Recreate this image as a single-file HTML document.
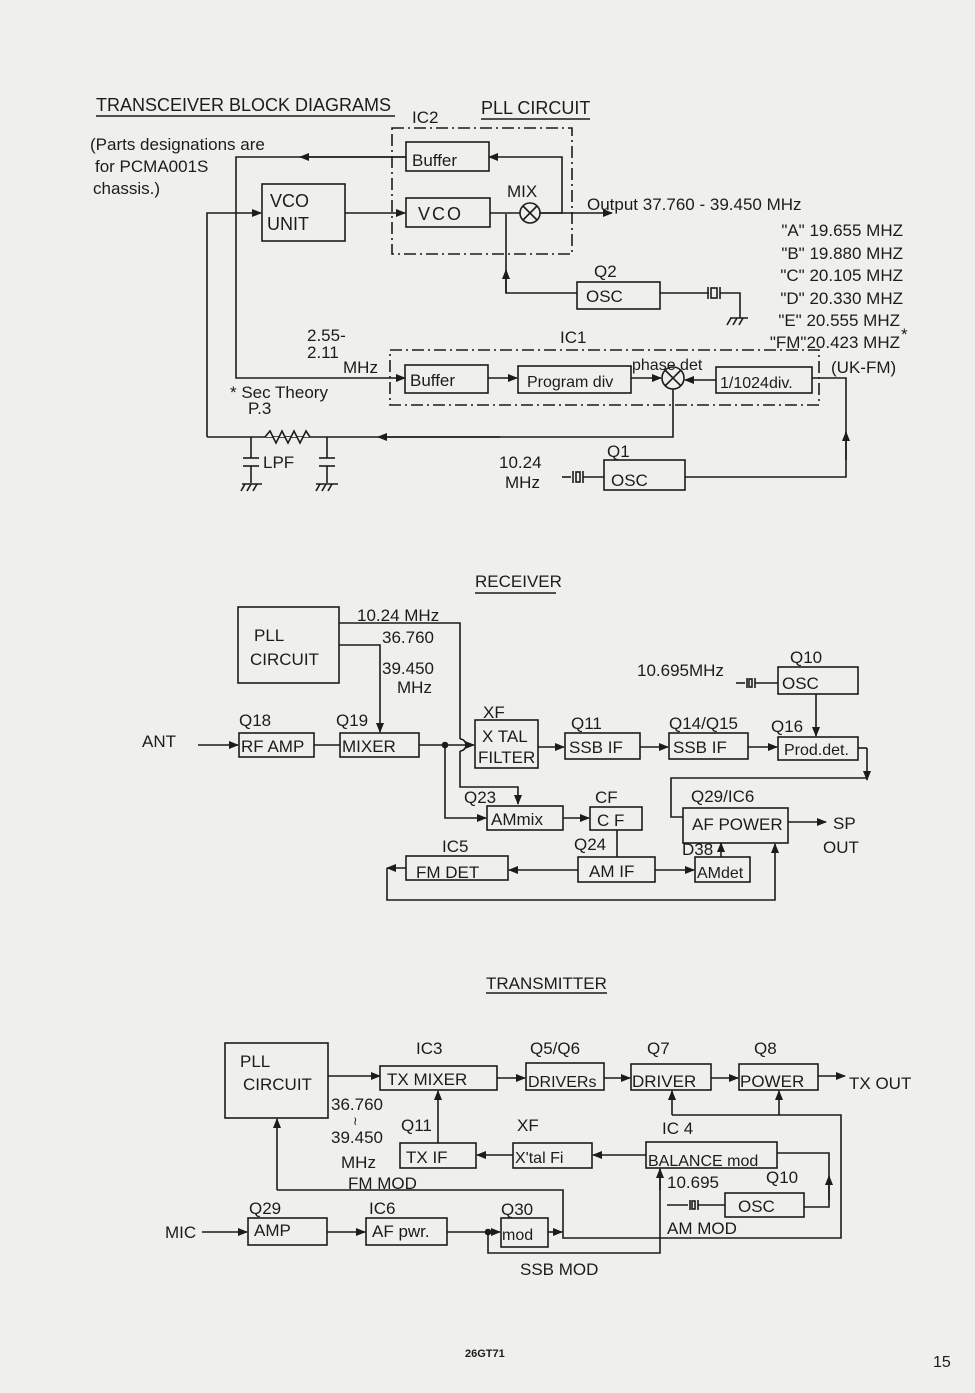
<!DOCTYPE html>
<html><head><meta charset="utf-8"><style>
html,body{margin:0;padding:0;background:#efefec;}
svg{display:block;}
text{font-family:"Liberation Sans",sans-serif;fill:#1c1c1c;}
</style></head><body>
<svg width="975" height="1393" viewBox="0 0 975 1393" xmlns="http://www.w3.org/2000/svg">
<defs>
<marker id="a" markerWidth="10" markerHeight="8" refX="9" refY="4" orient="auto" markerUnits="userSpaceOnUse"><path d="M0,0 L10,4 L0,8 Z" fill="#1c1c1c"/></marker>
</defs>
<rect width="975" height="1393" fill="#efefec"/>
<g stroke="#1c1c1c" stroke-width="1.6" fill="none">
<!-- ===== PLL section ===== -->
<line x1="96" y1="116" x2="395" y2="116"/>
<line x1="481" y1="119" x2="590" y2="119"/>
<rect x="392" y="128" width="180" height="126" stroke-dasharray="12,4,2,4"/>
<rect x="406" y="142" width="83" height="29"/>
<rect x="262" y="184" width="83" height="57"/>
<rect x="406" y="198" width="84" height="29"/>
<circle cx="530" cy="213" r="10"/>
<line x1="523" y1="206" x2="537" y2="220"/><line x1="537" y1="206" x2="523" y2="220"/>
<line x1="345" y1="213" x2="405" y2="213" marker-end="url(#a)"/>
<line x1="490" y1="213" x2="520" y2="213"/>
<line x1="540" y1="213" x2="612" y2="213" marker-end="url(#a)"/>
<polyline points="540,213 562,213 562,157 489,157" marker-end="url(#a)"/>
<polyline points="406,157 236,157 236,378 405,378" marker-end="url(#a)"/>
<line x1="406" y1="157" x2="300" y2="157" marker-end="url(#a)"/>
<polyline points="207,437 207,213 261,213" marker-end="url(#a)"/>
<polyline points="577,293 506,293 506,214"/>
<line x1="506" y1="293" x2="506" y2="270" marker-end="url(#a)"/>
<rect x="577" y="282" width="83" height="27"/>
<line x1="660" y1="293" x2="709" y2="293"/>
<rect x="711" y="288" width="6" height="10"/><line x1="708" y1="287" x2="708" y2="299"/><line x1="720" y1="287" x2="720" y2="299"/>
<polyline points="720,293 740,293 740,318"/>
<line x1="730" y1="318" x2="748" y2="318"/>
<line x1="731" y1="318" x2="727" y2="325"/><line x1="737" y1="318" x2="733" y2="325"/><line x1="743" y1="318" x2="739" y2="325"/>
<rect x="390" y="350" width="429" height="55" stroke-dasharray="12,4,2,4"/>
<rect x="405" y="365" width="83" height="28"/>
<rect x="518" y="366" width="113" height="27"/>
<rect x="716" y="367" width="96" height="26"/>
<circle cx="673" cy="378" r="11"/>
<line x1="665" y1="370" x2="681" y2="386"/><line x1="681" y1="370" x2="665" y2="386"/>
<line x1="488" y1="378" x2="517" y2="378" marker-end="url(#a)"/>
<line x1="631" y1="378" x2="661" y2="378" marker-end="url(#a)"/>
<line x1="716" y1="380" x2="685" y2="380" marker-end="url(#a)"/>
<polyline points="812,378 846,378 846,477 685,477"/>
<line x1="846" y1="460" x2="846" y2="432" marker-end="url(#a)"/>
<rect x="604" y="460" width="81" height="30"/>
<line x1="562" y1="477" x2="571" y2="477"/><line x1="573" y1="471" x2="573" y2="483"/><rect x="576" y="472" width="4" height="10"/><line x1="583" y1="471" x2="583" y2="483"/><line x1="583" y1="477" x2="604" y2="477"/>
<polyline points="673,389 673,437 207,437"/>
<line x1="500" y1="437" x2="378" y2="437" marker-end="url(#a)"/>
<polyline points="265,437 270,431 276,443 282,431 288,443 294,431 300,443 306,431 310,437" stroke="#1c1c1c" fill="#efefec"/>
<line x1="251" y1="437" x2="251" y2="458"/><line x1="243" y1="458" x2="259" y2="458"/><line x1="243" y1="466" x2="259" y2="466"/><line x1="251" y1="466" x2="251" y2="483"/>
<line x1="242" y1="484" x2="262" y2="484"/>
<line x1="245" y1="484" x2="241" y2="491"/><line x1="251" y1="484" x2="247" y2="491"/><line x1="257" y1="484" x2="253" y2="491"/>
<line x1="327" y1="437" x2="327" y2="458"/><line x1="319" y1="458" x2="335" y2="458"/><line x1="319" y1="466" x2="335" y2="466"/><line x1="327" y1="466" x2="327" y2="483"/>
<line x1="316" y1="484" x2="338" y2="484"/>
<line x1="320" y1="484" x2="316" y2="491"/><line x1="326" y1="484" x2="322" y2="491"/><line x1="332" y1="484" x2="328" y2="491"/>
<!-- ===== Receiver ===== -->
<line x1="475" y1="593" x2="556" y2="593"/>
<rect x="238" y="607" width="101" height="76"/>
<polyline points="339,623 460,623 460,739"/>
<path d="M460,739 A6,6 0 0 1 460,751"/>
<polyline points="460,751 460,787 518,787 518,804" marker-end="url(#a)"/>
<polyline points="339,645 380,645 380,732" marker-end="url(#a)"/>
<line x1="198" y1="745" x2="238" y2="745" marker-end="url(#a)"/>
<rect x="239" y="733" width="75" height="24"/>
<line x1="314" y1="745" x2="340" y2="745"/>
<rect x="340" y="733" width="79" height="24"/>
<line x1="419" y1="745" x2="474" y2="745" marker-end="url(#a)"/>
<circle cx="445" cy="745" r="2.5" fill="#1c1c1c"/>
<polyline points="445,745 445,818 486,818" marker-end="url(#a)"/>
<rect x="475" y="720" width="63" height="48"/>
<line x1="538" y1="747" x2="564" y2="747" marker-end="url(#a)"/>
<rect x="565" y="733" width="75" height="26"/>
<line x1="640" y1="747" x2="668" y2="747" marker-end="url(#a)"/>
<rect x="669" y="733" width="79" height="26"/>
<line x1="748" y1="747" x2="777" y2="747" marker-end="url(#a)"/>
<rect x="778" y="737" width="80" height="23"/>
<rect x="778" y="667" width="80" height="27"/>
<line x1="816" y1="694" x2="816" y2="736" marker-end="url(#a)"/>
<line x1="736" y1="683" x2="745" y2="683"/><line x1="747" y1="678" x2="747" y2="688"/><rect x="749" y="679" width="3" height="8"/><line x1="755" y1="678" x2="755" y2="688"/><line x1="755" y1="683" x2="778" y2="683"/>
<line x1="867" y1="748" x2="867" y2="780" marker-end="url(#a)"/>
<polyline points="858,748 867,748"/>
<polyline points="867,778 671,778 671,817 683,817"/>
<rect x="683" y="808" width="105" height="35"/>
<line x1="788" y1="822" x2="826" y2="822" marker-end="url(#a)"/>
<rect x="487" y="806" width="76" height="24"/>
<line x1="563" y1="818" x2="589" y2="818" marker-end="url(#a)"/>
<rect x="590" y="807" width="52" height="23"/>
<line x1="617" y1="830" x2="617" y2="857"/>
<rect x="578" y="857" width="77" height="25"/>
<line x1="655" y1="870" x2="694" y2="870" marker-end="url(#a)"/>
<rect x="695" y="857" width="55" height="25"/>
<line x1="721" y1="857" x2="721" y2="843" marker-end="url(#a)"/>
<line x1="578" y1="870" x2="509" y2="870" marker-end="url(#a)"/>
<rect x="406" y="856" width="102" height="24"/>
<line x1="406" y1="868" x2="387" y2="868" marker-end="url(#a)"/>
<polyline points="387,868 387,900 775,900 775,844" marker-end="url(#a)"/>
<!-- ===== Transmitter ===== -->
<line x1="486" y1="993" x2="607" y2="993"/>
<rect x="225" y="1043" width="103" height="75"/>
<line x1="328" y1="1076" x2="380" y2="1076" marker-end="url(#a)"/>
<rect x="380" y="1066" width="117" height="24"/>
<line x1="497" y1="1078" x2="525" y2="1078" marker-end="url(#a)"/>
<rect x="526" y="1063" width="78" height="27"/>
<line x1="604" y1="1078" x2="630" y2="1078" marker-end="url(#a)"/>
<rect x="631" y="1064" width="80" height="26"/>
<line x1="711" y1="1078" x2="738" y2="1078" marker-end="url(#a)"/>
<rect x="739" y="1064" width="79" height="26"/>
<line x1="818" y1="1076" x2="845" y2="1076" marker-end="url(#a)"/>
<polyline points="672,1115 672,1091" marker-end="url(#a)"/>
<line x1="779" y1="1115" x2="779" y2="1091" marker-end="url(#a)"/>
<polyline points="672,1115 841,1115 841,1238 563,1238 563,1190 277,1190"/>
<line x1="277" y1="1190" x2="277" y2="1119" marker-end="url(#a)"/>
<rect x="400" y="1143" width="76" height="25"/>
<line x1="438" y1="1143" x2="438" y2="1091" marker-end="url(#a)"/>
<rect x="513" y="1143" width="79" height="25"/>
<line x1="513" y1="1155" x2="477" y2="1155" marker-end="url(#a)"/>
<rect x="646" y="1142" width="131" height="26"/>
<line x1="646" y1="1155" x2="593" y2="1155" marker-end="url(#a)"/>
<polyline points="804,1207 829,1207 829,1153 777,1153"/>
<line x1="829" y1="1200" x2="829" y2="1176" marker-end="url(#a)"/>
<rect x="725" y="1193" width="79" height="24"/>
<line x1="667" y1="1205" x2="688" y2="1205"/><line x1="690" y1="1200" x2="690" y2="1210"/><rect x="692" y="1201" width="3" height="8"/><line x1="698" y1="1200" x2="698" y2="1210"/><line x1="698" y1="1205" x2="725" y2="1205"/>
<line x1="202" y1="1232" x2="247" y2="1232" marker-end="url(#a)"/>
<rect x="248" y="1218" width="79" height="27"/>
<line x1="327" y1="1232" x2="365" y2="1232" marker-end="url(#a)"/>
<rect x="366" y="1218" width="81" height="27"/>
<line x1="447" y1="1232" x2="500" y2="1232" marker-end="url(#a)"/>
<circle cx="488" cy="1232" r="2.5" fill="#1c1c1c"/>
<rect x="501" y="1218" width="47" height="29"/>
<line x1="548" y1="1232" x2="562" y2="1232" marker-end="url(#a)"/>
<polyline points="488,1232 488,1253 660,1253 660,1169"/>
<line x1="660" y1="1190" x2="660" y2="1169" marker-end="url(#a)"/>
</g>
<!-- Text -->
<g font-size="17">
<text x="96" y="111" font-size="18">TRANSCEIVER BLOCK DIAGRAMS</text>
<text x="481" y="114" font-size="18">PLL CIRCUIT</text>
<text x="412" y="123">IC2</text>
<text x="90" y="150">(Parts designations are</text>
<text x="95" y="172">for PCMA001S</text>
<text x="93" y="194">chassis.)</text>
<text x="412" y="166">Buffer</text>
<text x="270" y="207" font-size="18">VCO</text>
<text x="267" y="230" font-size="18">UNIT</text>
<text x="418" y="220" font-size="18" letter-spacing="2">VCO</text>
<text x="507" y="197">MIX</text>
<text x="587" y="210">Output  37.760 - 39.450 MHz</text>
<text x="903" y="236" text-anchor="end">"A" 19.655 MHZ</text>
<text x="903" y="259" text-anchor="end">"B" 19.880 MHZ</text>
<text x="903" y="281" text-anchor="end">"C" 20.105 MHZ</text>
<text x="903" y="304" text-anchor="end">"D" 20.330 MHZ</text>
<text x="900" y="326" text-anchor="end">"E" 20.555 MHZ</text>
<text x="900" y="348" text-anchor="end">"FM"20.423 MHZ</text>
<text x="901" y="340">*</text>
<text x="831" y="373">(UK-FM)</text>
<text x="594" y="277">Q2</text>
<text x="586" y="302">OSC</text>
<text x="560" y="343">IC1</text>
<text x="307" y="341">2.55-</text>
<text x="307" y="358">2.11</text>
<text x="343" y="373">MHz</text>
<text x="410" y="386">Buffer</text>
<text x="527" y="387" font-size="16">Program div</text>
<text x="632" y="370" font-size="16">phase det</text>
<text x="720" y="388" font-size="16">1/1024div.</text>
<text x="230" y="398">* Sec Theory</text>
<text x="248" y="414">P.3</text>
<text x="263" y="468">LPF</text>
<text x="607" y="457">Q1</text>
<text x="611" y="486">OSC</text>
<text x="499" y="468">10.24</text>
<text x="505" y="488">MHz</text>

<text x="475" y="587">RECEIVER</text>
<text x="254" y="641">PLL</text>
<text x="250" y="665">CIRCUIT</text>
<text x="357" y="621">10.24 MHz</text>
<text x="382" y="643">36.760</text>
<text x="382" y="674">39.450</text>
<text x="397" y="693">MHz</text>
<text x="142" y="747">ANT</text>
<text x="239" y="726">Q18</text>
<text x="241" y="752">RF AMP</text>
<text x="336" y="726">Q19</text>
<text x="342" y="752">MIXER</text>
<text x="483" y="718">XF</text>
<text x="482" y="742">X TAL</text>
<text x="478" y="763">FILTER</text>
<text x="571" y="729">Q11</text>
<text x="569" y="753">SSB IF</text>
<text x="669" y="729">Q14/Q15</text>
<text x="673" y="753">SSB IF</text>
<text x="771" y="732">Q16</text>
<text x="784" y="755" font-size="16">Prod.det.</text>
<text x="790" y="663">Q10</text>
<text x="782" y="689">OSC</text>
<text x="637" y="676">10.695MHz</text>
<text x="464" y="803">Q23</text>
<text x="491" y="825">AMmix</text>
<text x="595" y="803">CF</text>
<text x="597" y="826">C F</text>
<text x="691" y="802">Q29/IC6</text>
<text x="692" y="830">AF POWER</text>
<text x="833" y="829">SP</text>
<text x="823" y="853">OUT</text>
<text x="574" y="850">Q24</text>
<text x="589" y="877">AM IF</text>
<text x="682" y="855">D38</text>
<text x="697" y="878" font-size="16">AMdet</text>
<text x="442" y="852">IC5</text>
<text x="416" y="878">FM DET</text>

<text x="486" y="989">TRANSMITTER</text>
<text x="240" y="1067">PLL</text>
<text x="243" y="1090">CIRCUIT</text>
<text x="416" y="1054">IC3</text>
<text x="387" y="1085">TX MIXER</text>
<text x="530" y="1054">Q5/Q6</text>
<text x="528" y="1087" font-size="16">DRIVERs</text>
<text x="647" y="1054">Q7</text>
<text x="632" y="1087">DRIVER</text>
<text x="754" y="1054">Q8</text>
<text x="740" y="1087">POWER</text>
<text x="849" y="1089">TX OUT</text>
<text x="331" y="1110">36.760</text>
<text x="353" y="1125" font-size="12">≀</text>
<text x="331" y="1143">39.450</text>
<text x="341" y="1168">MHz</text>
<text x="348" y="1189">FM MOD</text>
<text x="401" y="1131">Q11</text>
<text x="406" y="1163">TX IF</text>
<text x="517" y="1131">XF</text>
<text x="515" y="1163" font-size="16">X'tal Fi</text>
<text x="662" y="1134">IC 4</text>
<text x="648" y="1166" font-size="16">BALANCE mod</text>
<text x="667" y="1188">10.695</text>
<text x="766" y="1183">Q10</text>
<text x="738" y="1212">OSC</text>
<text x="667" y="1234">AM MOD</text>
<text x="165" y="1238">MIC</text>
<text x="249" y="1214">Q29</text>
<text x="254" y="1236">AMP</text>
<text x="369" y="1214">IC6</text>
<text x="372" y="1237">AF pwr.</text>
<text x="501" y="1215">Q30</text>
<text x="502" y="1240" font-size="16">mod</text>
<text x="520" y="1275">SSB MOD</text>
</g>
<text x="465" y="1357" font-size="11" font-weight="bold">26GT71</text>
<text x="933" y="1367" font-size="16">15</text>
</svg>
</body></html>
